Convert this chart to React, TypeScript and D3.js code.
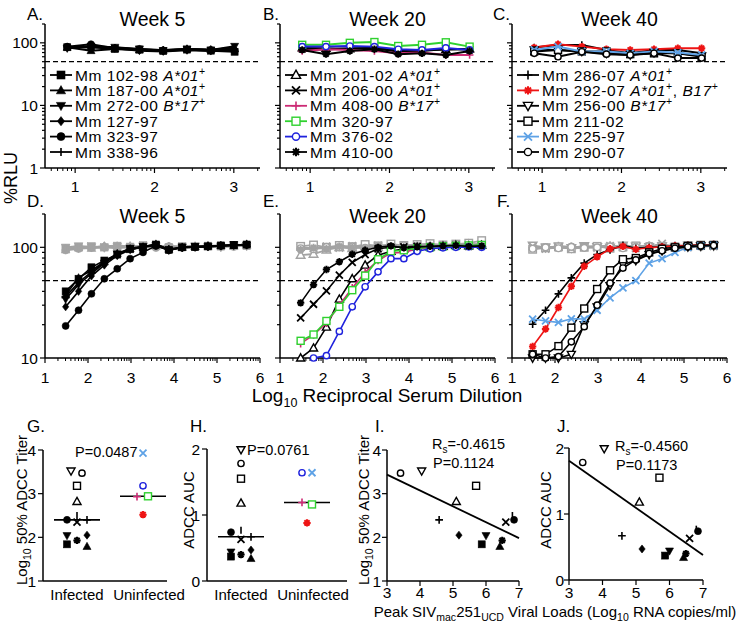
import React from 'react';
import * as d3 from 'd3';

const FONT = "'Liberation Sans', Arial, Helvetica, sans-serif";

// ---------- DATA ----------
const topDilutions = [0.9, 1.2, 1.5, 1.81, 2.11, 2.41, 2.71, 3.01];
const curveDilutions = [1.48, 1.78, 2.08, 2.38, 2.68, 2.98, 3.28, 3.58, 3.88, 4.19, 4.49, 4.79, 5.09, 5.39, 5.69];

const week5Animals = ['102-98', '187-00', '272-00', '127-97', '323-97', '338-96'];
const week20Animals = ['201-02', '206-00', '408-00', '320-97', '376-02', '410-00'];
const week40Animals = ['286-07', '292-07', '256-00', '211-02', '225-97', '290-07'];

const week5Alleles = ['A*01', 'A*01', 'B*17', '', '', ''];
const week20Alleles = ['A*01', 'A*01', 'B*17', '', '', ''];
const week40Alleles = ['A*01', 'A*01, B17', 'B*17', '', '', ''];

// Panels A-C: %RLU
const rluA = [
  [85, 85, 80, 78, 74, 78, 75, 72],
  [85, 75, 80, 77, 76, 80, 78, 80],
  [82, 88, 85, 80, 75, 80, 77, 88],
  [85, 88, 82, 75, 73, 76, 74, 78],
  [87, 95, 82, 80, 76, 78, 77, 75],
  [84, 86, 84, 78, 77, 80, 76, 85],
];
const rluB = [
  [83, 82, 80, 84, 75, 76, 78, 80],
  [80, 78, 82, 82, 72, 74, 80, 78],
  [74, 79, 77, 74, 68, 70, 64, 64],
  [93, 93, 100, 103, 89, 93, 102, 87],
  [87, 87, 89, 87, 79, 77, 83, 77],
  [77, 66, 74, 79, 66, 68, 64, 74],
];
const rluC = [
  [84, 92, 92, 77, 68, 77, 77, 68],
  [84, 95, 87, 79, 77, 79, 82, 82],
  [77, 77, 73, 68, 64, 70, 68, 62],
  [73, 77, 73, 73, 66, 68, 68, 60],
  [77, 87, 73, 73, 68, 73, 70, 64],
  [68, 60, 72, 66, 64, 68, 57, 57],
];

// Panels D-F: %RLU titration curves
const rluD = [
  [40, 52, 66, 76, 86, 96, 100, 106, 95, 100, 101, 102, 104, 105, 106],
  [37, 53, 62, 74, 88, 97, 101, 107, 96, 100, 101, 103, 104, 104, 107],
  [34, 46, 58, 72, 87, 98, 102, 105, 94, 100, 102, 101, 103, 106, 105],
  [29, 40, 55, 69, 84, 95, 100, 104, 95, 99, 100, 102, 103, 104, 106],
  [19.5, 27, 38, 52, 64, 79, 90, 103, 94, 99, 100, 102, 103, 104, 105],
  [36, 48, 60, 73, 85, 96, 101, 106, 96, 100, 101, 102, 104, 105, 106],
];
const rluE = [
  [10, 12.3, 19, 34, 52, 69, 85, 92, 97, 100, 101, 102, 104, 103, 104],
  [23, 30.6, 40.4, 56, 73, 86, 97, 100, 101, 102, 100, 103, 104, 102, 104],
  [13.5, 16.2, 20.7, 30, 43, 59.5, 76, 89, 90, 97, 99, 101, 102, 103, 104],
  [14.3, 16.3, 21.6, 29, 41, 55.5, 78, 92, 94, 98, 100, 102, 103, 104, 105],
  [null, 10, 10.5, 17.4, 29, 44, 60, 79, 79, 92, 97, 99, 100, 101, 100],
  [31.5, 46, 63, 74, 86.5, 94, 100, 103, 99, 101, 102, 103, 104, 102, 103],
];
const rluF = [
  [20.2, 27, 38, 53, 72, 86, 95, 104, 98, 100, 101, 103, 104, 105, 106],
  [12.7, 18.3, 28.6, 44.5, 67.5, 82, 97, 102, 96, 99, 101, 103, 104, 105, 106],
  [10, 10, 10, 10.8, 20, 29, 45, 70, 76, 86, 93, 98, 101, 103, 104],
  [10.8, 10.8, 12.8, 18.8, 28, 42, 62, 78, 80, 90, 97, 100, 103, 104, 105],
  [22.5, 21.6, 21, 22.6, 22.5, 27, 35, 43, 50, 72, 79, 90, 100, 103, 104],
  [10.8, 10, 10.3, 14, 19.2, 30, 47.5, 65, 77, 88, 93, 98, 101, 103, 104],
];
// grey control curves in D-F
const greyD = [
  [98, 100, 102, 100, 103, 101, 104, 103, 100, 102, 101, 103, 102, 104, 103],
  [95, 99, 98, 101, 100, 103, 100, 102, 101, 100, 102, 101, 103, 102, 104],
  [100, 103, 101, 99, 102, 100, 103, 101, 99, 101, 103, 102, 100, 103, 102],
  [96, 98, 100, 103, 101, 99, 102, 104, 101, 100, 102, 104, 101, 103, 105],
  [94, 97, 99, 100, 98, 101, 100, 99, 102, 101, 100, 102, 103, 101, 104],
  [99, 101, 100, 102, 104, 102, 101, 100, 103, 102, 104, 101, 102, 104, 103],
];
const greyE = [
  [85, 87, 95, 100, 98, 102, 100, 104, 101, 103, 105, 102, 104, 106, 108],
  [100, 98, 102, 99, 103, 101, 104, 102, 100, 103, 105, 103, 104, 106, 105],
  [97, 100, 99, 101, 98, 102, 100, 103, 101, 104, 102, 105, 103, 104, 106],
  [102, 105, 100, 104, 101, 106, 103, 107, 104, 106, 108, 105, 107, 109, 115],
  [98, 96, 101, 100, 102, 99, 103, 101, 104, 102, 103, 105, 104, 103, 106],
  [95, 99, 97, 102, 100, 98, 103, 101, 100, 104, 102, 101, 105, 103, 104],
];
const greyF = [
  [100, 98, 103, 101, 99, 102, 104, 101, 100, 103, 102, 104, 101, 103, 105],
  [98, 101, 99, 102, 100, 103, 101, 99, 102, 104, 101, 103, 102, 104, 103],
  [104, 100, 102, 99, 103, 101, 100, 104, 102, 101, 103, 100, 104, 102, 103],
  [96, 99, 101, 97, 100, 102, 98, 101, 103, 100, 102, 101, 103, 105, 104],
  [102, 97, 100, 98, 101, 99, 103, 100, 98, 102, 108, 101, 100, 103, 102],
  [97, 100, 98, 101, 99, 100, 102, 98, 101, 103, 100, 102, 104, 101, 103],
];

// Panels G-J
const allAnimals = [...week5Animals, ...week20Animals, ...week40Animals];
const infectedFlag = [1, 1, 1, 1, 1, 1, 1, 1, 0, 0, 0, 1, 1, 0, 1, 1, 0, 1];
const titer50 = [1.84, 1.79, 2.04, 2.05, 2.40, 2.50, 2.82, 2.35, 2.93, 2.94, 3.18, 1.93, 2.40, 2.52, 3.52, 3.18, 3.93, 3.47];
const adccAuc = [0.37, 0.34, 0.44, 0.47, 0.74, 0.77, 1.18, 0.63, 1.19, 1.16, 1.64, 0.40, 0.67, 0.88, 1.99, 1.55, 1.64, 1.78];
const peakViralLoad = [5.87, 6.42, 6.0, 5.18, 6.85, 6.8, 5.1, 6.6, null, null, null, 6.49, 4.58, null, 4.05, 5.7, null, 3.41];
const groupNames = ['Infected', 'Uninfected'];
const pTiter = 'P=0.0487';
const pAuc = 'P=0.0761';
const rsTiter = '=-0.4615';
const pRsTiter = 'P=0.1124';
const rsAuc = '=-0.4560';
const pRsAuc = 'P=0.1173';

// ---------- STYLES ----------
const markerOf: Record<string, string> = {
  '102-98': 'square', '187-00': 'triUp', '272-00': 'triDown', '127-97': 'diamond', '323-97': 'circle', '338-96': 'vbar',
  '201-02': 'triUpOpen', '206-00': 'cross', '408-00': 'plus', '320-97': 'squareOpen', '376-02': 'circleOpen', '410-00': 'asterisk',
  '286-07': 'plus', '292-07': 'asterisk', '256-00': 'triDownOpen', '211-02': 'squareOpen', '225-97': 'cross', '290-07': 'circleOpen',
};
const colorOf: Record<string, string> = {
  '408-00': '#cc2a74', '320-97': '#2fd12f', '376-02': '#1f22dd', '292-07': '#ee1414', '225-97': '#5ea2e6',
};
const col = (id: string) => colorOf[id] || '#000';
const GREY = '#a3a3a3';
const jitterG = [-10, 10, -10, 10, -10, 0, 0, 0, -6, 5, 0, 0, 10, 0, -6, 0, 0, 5];
const jitterH = [-10, 10, -10, 10, -10, 0, 0, 0, -5, 5, -5, 0, 10, 0, 0, 0, 5, 0];

function Marker({ type, x, y, color, size = 7, sw = 1.4 }: any) {
  const h = size / 2;
  const open = { fill: '#fff', stroke: color, strokeWidth: sw };
  const filled = { fill: color, stroke: color, strokeWidth: 0.6 };
  const strokeOnly = { fill: 'none', stroke: color, strokeWidth: 1.8, strokeLinecap: 'butt' as const };
  switch (type) {
    case 'square':
      return <rect x={x - h} y={y - h} width={size} height={size} {...filled} />;
    case 'squareOpen':
      return <rect x={x - h} y={y - h} width={size} height={size} {...open} />;
    case 'triUp':
    case 'triUpOpen': {
      const d = `M${x},${y - h * 1.2}L${x + h * 1.15},${y + h * 0.85}L${x - h * 1.15},${y + h * 0.85}Z`;
      return <path d={d} {...(type === 'triUp' ? filled : open)} />;
    }
    case 'triDown':
    case 'triDownOpen': {
      const d = `M${x},${y + h * 1.2}L${x + h * 1.15},${y - h * 0.85}L${x - h * 1.15},${y - h * 0.85}Z`;
      return <path d={d} {...(type === 'triDown' ? filled : open)} />;
    }
    case 'diamond': {
      const d = `M${x},${y - h * 1.15}L${x + h * 0.9},${y}L${x},${y + h * 1.15}L${x - h * 0.9},${y}Z`;
      return <path d={d} {...filled} />;
    }
    case 'circle':
      return <circle cx={x} cy={y} r={h} {...filled} />;
    case 'circleOpen':
      return <circle cx={x} cy={y} r={h * 0.9} {...open} />;
    case 'cross':
      return <path d={`M${x - h},${y - h}L${x + h},${y + h}M${x - h},${y + h}L${x + h},${y - h}`} {...strokeOnly} />;
    case 'plus':
      return <path d={`M${x - h * 1.1},${y}L${x + h * 1.1},${y}M${x},${y - h * 1.1}L${x},${y + h * 1.1}`} {...strokeOnly} strokeWidth={1.6} />;
    case 'asterisk': {
      const r = h * 1.05;
      const c = r * 0.7071;
      return (
        <g>
          <path d={`M${x - r},${y}L${x + r},${y}M${x},${y - r}L${x},${y + r}M${x - c},${y - c}L${x + c},${y + c}M${x - c},${y + c}L${x + c},${y - c}`} {...strokeOnly} strokeWidth={2} />
          <circle cx={x} cy={y} r={h * 0.5} fill={color} />
        </g>
      );
    }
    case 'vbar':
      return <path d={`M${x},${y - h}L${x},${y + h}`} {...strokeOnly} strokeWidth={1.6} />;
    default:
      return null;
  }
}

const minorLogTicks = (lo: number, hi: number) => {
  const out: number[] = [];
  for (let n = Math.floor(lo); n <= Math.ceil(hi); n++) {
    for (let k = 2; k <= 9; k++) {
      const v = n + Math.log10(k);
      if (v >= lo && v <= hi) out.push(v);
    }
  }
  return out;
};

function LegendLabel({ x, y, id, allele }: any) {
  const parts = allele ? allele.split(', ') : [];
  const kids: any[] = [<tspan key="n">{`Mm ${id}${parts.length ? ' ' : ''}`}</tspan>];
  parts.forEach((p: string, i: number) => {
    if (i > 0) kids.push(<tspan key={'c' + i} dy={6}>{', '}</tspan>);
    kids.push(<tspan key={'p' + i} fontStyle="italic">{p}</tspan>);
    kids.push(<tspan key={'s' + i} dy={-6} fontSize={10.5}>+</tspan>);
  });
  return (
    <text x={x} y={y} fontSize={15.5} letterSpacing={0.55} fontFamily={FONT}>{kids}</text>
  );
}

const PW = 215;

function TopPanel({ left, letter, letterX, title, ids, alleles, values, showY }: any) {
  const x = d3.scaleLinear().domain([0.62, 3.33]).range([left, left + PW]);
  const y = d3.scaleLog().domain([1, 200]).range([168, 24]);
  const yt = y.ticks();
  const line = d3.line<number>().x((_, i) => x(topDilutions[i])).y((v) => y(v));
  const [x0, x1] = x.domain();
  return (
    <g>
      <text x={letterX} y={20} fontSize={17} fontFamily={FONT}>{letter}</text>
      <text x={left + PW / 2} y={26} fontSize={19.5} fontFamily={FONT} textAnchor="middle">{title}</text>
      <line x1={left} x2={left} y1={24} y2={168} stroke="#000" strokeWidth={1.5} />
      <line x1={left} x2={left + PW} y1={168} y2={168} stroke="#000" strokeWidth={1.5} />
      {yt.map((t) => {
        const major = Math.abs(Math.log10(t) - Math.round(Math.log10(t))) < 1e-9;
        return <line key={'yt' + t} x1={left} x2={left - (major ? 5 : 3)} y1={y(t)} y2={y(t)} stroke="#000" strokeWidth={1.2} />;
      })}
      {showY && [1, 10, 100].map((t) => (
        <text key={'yl' + t} x={left - 7} y={y(t) + 5.5} fontSize={15.5} fontFamily={FONT} textAnchor="end">{t}</text>
      ))}
      {[1, 2, 3].map((t) => (
        <g key={'xt' + t}>
          <line x1={x(t)} x2={x(t)} y1={168} y2={173} stroke="#000" strokeWidth={1.2} />
          <text x={x(t)} y={192} fontSize={15.5} fontFamily={FONT} textAnchor="middle">{t}</text>
        </g>
      ))}
      {minorLogTicks(x0, x1).map((t, i) => (
        <line key={'xm' + i} x1={x(t)} x2={x(t)} y1={168} y2={171} stroke="#000" strokeWidth={1} />
      ))}
      <line x1={left} x2={left + PW} y1={y(50)} y2={y(50)} stroke="#000" strokeWidth={1.3} strokeDasharray="5,3" />
      {values.map((vals: number[], si: number) => (
        <g key={'s' + si}>
          <path d={line(vals) || ''} fill="none" stroke={col(ids[si])} strokeWidth={2} />
          {vals.map((v, i) => (
            <Marker key={i} type={markerOf[ids[si]]} x={x(topDilutions[i])} y={y(v)} color={col(ids[si])} size={7} />
          ))}
        </g>
      ))}
      {ids.map((id: string, i: number) => {
        const ry = 75 + i * 15.4;
        return (
          <g key={'lg' + id}>
            <line x1={left + 5} x2={left + 27} y1={ry} y2={ry} stroke={col(id)} strokeWidth={1.8} />
            <Marker type={markerOf[id]} x={left + 16} y={ry} color={col(id)} size={8} />
            <LegendLabel x={left + 30} y={ry + 5.5} id={id} allele={alleles[i]} />
          </g>
        );
      })}
    </g>
  );
}

function CurvePanel({ left, letter, letterX, title, ids, values, greys, showY }: any) {
  const x = d3.scaleLinear().domain([1, 6]).range([left, left + PW]);
  const y = d3.scaleLog().domain([10, 200]).range([358, 214]);
  const yt = y.ticks();
  const line = d3.line<number | null>().defined((v) => v != null).x((_, i) => x(curveDilutions[i])).y((v) => y(v as number));
  return (
    <g>
      <text x={letterX} y={207} fontSize={17} fontFamily={FONT}>{letter}</text>
      <text x={left + PW / 2} y={223} fontSize={19.5} fontFamily={FONT} textAnchor="middle">{title}</text>
      <line x1={left} x2={left} y1={214} y2={358} stroke="#000" strokeWidth={1.5} />
      <line x1={left} x2={left + PW} y1={358} y2={358} stroke="#000" strokeWidth={1.5} />
      {yt.map((t) => {
        const major = Math.abs(Math.log10(t) - Math.round(Math.log10(t))) < 1e-9;
        return <line key={'yt' + t} x1={left} x2={left - (major ? 5 : 3)} y1={y(t)} y2={y(t)} stroke="#000" strokeWidth={1.2} />;
      })}
      {showY && [10, 100].map((t) => (
        <text key={'yl' + t} x={left - 7} y={y(t) + 5.5} fontSize={15.5} fontFamily={FONT} textAnchor="end">{t}</text>
      ))}
      {[1, 2, 3, 4, 5, 6].map((t) => (
        <g key={'xt' + t}>
          <line x1={x(t)} x2={x(t)} y1={358} y2={363} stroke="#000" strokeWidth={1.2} />
          <text x={x(t)} y={383} fontSize={15.5} fontFamily={FONT} textAnchor="middle">{t}</text>
        </g>
      ))}
      {minorLogTicks(1, 6).map((t, i) => (
        <line key={'xm' + i} x1={x(t)} x2={x(t)} y1={358} y2={361} stroke="#000" strokeWidth={1} />
      ))}
      <line x1={left} x2={left + PW} y1={y(50)} y2={y(50)} stroke="#000" strokeWidth={1.3} strokeDasharray="5,3" />
      {greys.map((vals: number[], si: number) => (
        <g key={'g' + si}>
          <path d={line(vals) || ''} fill="none" stroke={GREY} strokeWidth={1.8} />
          {vals.map((v, i) => (
            <Marker key={i} type={markerOf[ids[si]]} x={x(curveDilutions[i])} y={y(v)} color={GREY} size={7.5} />
          ))}
        </g>
      ))}
      {values.map((vals: (number | null)[], si: number) => (
        <g key={'s' + si}>
          <path d={line(vals) || ''} fill="none" stroke={col(ids[si])} strokeWidth={1.6} />
          {vals.map((v, i) => v == null ? null : (
            <Marker key={i} type={markerOf[ids[si]]} x={x(curveDilutions[i])} y={y(v)} color={col(ids[si])} size={7} />
          ))}
        </g>
      ))}
    </g>
  );
}

function ColumnPanel({ left, right, top, bottom, domain, ticks, values, jitter, pText, pX, pY, letter, letterX, ylabel }: any) {
  const y = d3.scaleLinear().domain(domain).range([bottom, top]);
  const xc = d3.scalePoint().domain(groupNames).range([left + 34, left + 100]);
  const meds = groupNames.map((g, gi) => d3.median(values.filter((_: number, i: number) => (gi === 0 ? infectedFlag[i] === 1 : infectedFlag[i] === 0))) as number);
  return (
    <g>
      <text x={letterX} y={432} fontSize={17} fontFamily={FONT}>{letter}</text>
      <line x1={left} x2={left} y1={top} y2={bottom} stroke="#000" strokeWidth={1.5} />
      <line x1={left} x2={right} y1={bottom} y2={bottom} stroke="#000" strokeWidth={1.5} />
      {ticks.map((t: number) => (
        <g key={'t' + t}>
          <line x1={left} x2={left - 5} y1={y(t)} y2={y(t)} stroke="#000" strokeWidth={1.2} />
          <text x={left - 7} y={y(t) + 5.5} fontSize={15.5} fontFamily={FONT} textAnchor="end">{t}</text>
        </g>
      ))}
      {groupNames.map((g, gi) => (
        <text key={g} x={(xc(g) as number) + (gi === 1 ? 6 : 0)} y={600} fontSize={15} fontFamily={FONT} textAnchor="middle">{g}</text>
      ))}
      {groupNames.map((g, gi) => (
        <line key={'m' + g} x1={(xc(g) as number) - 23} x2={(xc(g) as number) + 23} y1={y(meds[gi])} y2={y(meds[gi])} stroke="#000" strokeWidth={1.6} />
      ))}
      {values.map((v: number, i: number) => {
        const g = infectedFlag[i] ? groupNames[0] : groupNames[1];
        const id = allAnimals[i];
        return <Marker key={id} type={markerOf[id]} x={(xc(g) as number) + jitter[i]} y={y(v)} color={infectedFlag[i] ? '#000' : col(id)} size={7} />;
      })}
      <text x={pX} y={pY} fontSize={14.5} fontFamily={FONT}>{pText}</text>
      {ylabel}
    </g>
  );
}

function CorrPanel({ left, right, top, bottom, domain, ticks, values, rsText, pText, tX, tY, letter, letterX, gap = 7 }: any) {
  const x = d3.scaleLinear().domain([3, 7]).range([left, right]);
  const y = d3.scaleLinear().domain(domain).range([bottom, top]);
  const pts = values
    .map((v: number, i: number) => ({ id: allAnimals[i], vx: peakViralLoad[i], vy: v, inf: infectedFlag[i] }))
    .filter((p: any) => p.vx != null && p.inf === 1);
  const mx = d3.mean(pts, (p: any) => p.vx) as number;
  const my = d3.mean(pts, (p: any) => p.vy) as number;
  const sxy = d3.sum(pts, (p: any) => (p.vx - mx) * (p.vy - my));
  const sxx = d3.sum(pts, (p: any) => (p.vx - mx) ** 2);
  const slope = sxy / sxx;
  const fy = (xv: number) => my + slope * (xv - mx);
  return (
    <g>
      <text x={letterX} y={432} fontSize={17} fontFamily={FONT}>{letter}</text>
      <line x1={left} x2={left} y1={top} y2={bottom} stroke="#000" strokeWidth={1.5} />
      <line x1={left} x2={right} y1={bottom} y2={bottom} stroke="#000" strokeWidth={1.5} />
      {ticks.map((t: number) => (
        <g key={'t' + t}>
          <line x1={left} x2={left - 5} y1={y(t)} y2={y(t)} stroke="#000" strokeWidth={1.2} />
          <text x={left - gap} y={y(t) + 5.5} fontSize={15.5} fontFamily={FONT} textAnchor="end">{t}</text>
        </g>
      ))}
      {[3, 4, 5, 6, 7].map((t) => (
        <g key={'x' + t}>
          <line x1={x(t)} x2={x(t)} y1={bottom} y2={bottom + 5} stroke="#000" strokeWidth={1.2} />
          <text x={x(t)} y={598} fontSize={15.5} fontFamily={FONT} textAnchor="middle">{t}</text>
        </g>
      ))}
      <line x1={x(3)} x2={x(7)} y1={y(fy(3))} y2={y(fy(7))} stroke="#000" strokeWidth={1.8} />
      {pts.map((p: any) => (
        <Marker key={p.id} type={markerOf[p.id]} x={x(p.vx)} y={y(p.vy)} color="#000" size={7} />
      ))}
      <text x={tX} y={tY} fontSize={14.5} fontFamily={FONT}>
        <tspan>R</tspan><tspan dy={4} fontSize={10}>s</tspan><tspan dy={-4}>{rsText}</tspan>
      </text>
      <text x={tX + 1} y={tY + 19} fontSize={14.5} fontFamily={FONT}>{pText}</text>
    </g>
  );
}

function RotLabel({ x, y, children, size = 15 }: any) {
  return (
    <text transform={`translate(${x},${y}) rotate(-90)`} textAnchor="middle" fontSize={size} fontFamily={FONT}>{children}</text>
  );
}

const titerLabel = (x: number) => (
  <RotLabel x={x} y={510}>
    <tspan>Log</tspan><tspan dy={4} fontSize={10.5}>10</tspan><tspan dy={-4}> 50% ADCC Titer</tspan>
  </RotLabel>
);
const aucLabel = (x: number) => <RotLabel x={x} y={510}>ADCC AUC</RotLabel>;

export default function App() {
  return (
    <svg width={742} height={622} style={{ position: 'absolute', left: 0, top: 0, background: '#fff' }}>
      <rect x={0} y={0} width={742} height={622} fill="#fff" />
      <TopPanel left={45} letter="A." letterX={27} title="Week 5" ids={week5Animals} alleles={week5Alleles} values={rluA} showY />
      <TopPanel left={280} letter="B." letterX={263} title="Week 20" ids={week20Animals} alleles={week20Alleles} values={rluB} />
      <TopPanel left={512} letter="C." letterX={493} title="Week 40" ids={week40Animals} alleles={week40Alleles} values={rluC} />
      <CurvePanel left={45} letter="D." letterX={27} title="Week 5" ids={week5Animals} values={rluD} greys={greyD} showY />
      <CurvePanel left={280} letter="E." letterX={263} title="Week 20" ids={week20Animals} values={rluE} greys={greyE} />
      <CurvePanel left={512} letter="F." letterX={497} title="Week 40" ids={week40Animals} values={rluF} greys={greyF} />
      <RotLabel x={17} y={178} size={18}>%RLU</RotLabel>
      <text x={387} y={402} fontSize={19} fontFamily={FONT} textAnchor="middle">
        <tspan>Log</tspan><tspan dy={5} fontSize={12.5}>10</tspan><tspan dy={-5}> Reciprocal Serum Dilution</tspan>
      </text>
      <ColumnPanel left={43} right={167} top={450} bottom={581} domain={[1, 4]} ticks={[1, 2, 3, 4]} values={titer50} jitter={jitterG}
        pText={pTiter} pX={75} pY={457} letter="G." letterX={27} ylabel={titerLabel(27)} />
      <ColumnPanel left={207} right={347} top={449} bottom={581} domain={[0, 2]} ticks={[0, 1, 2]} values={adccAuc} jitter={jitterH}
        pText={pAuc} pX={247} pY={455} letter="H." letterX={190} ylabel={aucLabel(194)} />
      <CorrPanel left={387} right={519} top={450} bottom={581} domain={[1, 4]} ticks={[1, 2, 3, 4]} values={titer50}
        rsText={rsTiter} pText={pRsTiter} tX={432} tY={449} letter="I." letterX={375} gap={6} />
      {titerLabel(369)}
      <CorrPanel left={569} right={703} top={448} bottom={580} domain={[0, 2]} ticks={[0, 1, 2]} values={adccAuc}
        rsText={rsAuc} pText={pRsAuc} tX={615} tY={451} letter="J." letterX={557} gap={5} />
      {aucLabel(551)}
      <text x={555} y={617} fontSize={15} fontFamily={FONT} textAnchor="middle">
        <tspan>Peak SIV</tspan><tspan dy={4} fontSize={10.5}>mac</tspan><tspan dy={-4}>251</tspan><tspan dy={4} fontSize={10.5}>UCD</tspan>
        <tspan dy={-4}> Viral Loads (Log</tspan><tspan dy={4} fontSize={10.5}>10</tspan><tspan dy={-4}> RNA copies/ml)</tspan>
      </text>
    </svg>
  );
}
